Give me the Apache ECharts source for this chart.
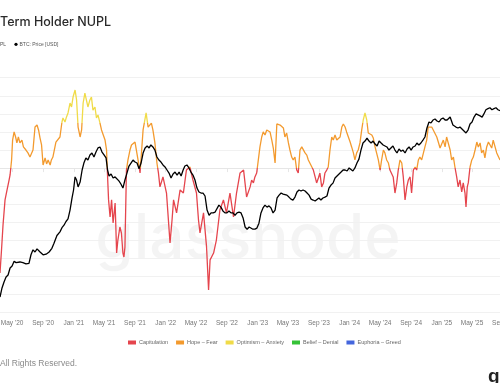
<!DOCTYPE html>
<html><head><meta charset="utf-8">
<script src="https://cdn.jsdelivr.net/npm/echarts@6/dist/echarts.min.js"></script>
<style>html,body{margin:0;padding:0;background:#fff}#c{width:500px;height:383px}</style>
</head><body><div id="c"></div>
<script>
// ---- data (days counted from START) ----
const START = '2020-03-14';
const AXIS_END_DAY = 2032.6;
const TICK_DATES = ['2020-05-01','2020-09-01','2021-01-01','2021-05-01','2021-09-01','2022-01-01','2022-05-01','2022-09-01','2023-01-01','2023-05-01','2023-09-01','2024-01-01','2024-05-01','2024-09-01','2025-01-01','2025-05-01','2025-09-01'];
const TICK_LABELS = ["May '20","Sep '20","Jan '21","May '21","Sep '21","Jan '22","May '22","Sep '22","Jan '23","May '23","Sep '23","Jan '24","May '24","Sep '24","Jan '25","May '25","Sep '25"];

const NUPL_DAY = [0,6,12,20,28,36,40,46,50,56,62,67,73,79,87,93,103,111,119,131,139,147,153,159,165,171,179,185,191,199,204,210,222,238,246,250,258,264,270,278,284,290,298,304,310,318,324,330,337,343,349,357,363,369,377,383,389,397,403,409,417,423,426,431,437,443,449,457,463,468,476,482,488,492,496,502,508,516,522,536,548,556,568,580,588,601,607,615,623,629,635,647,661,675,683,689,701,715,728,740,754,766,780,788,794,808,820,828,834,848,859,873,887,899,913,927,939,953,967,979,993,999,1006,1012,1019,1025,1032,1039,1045,1052,1059,1065,1072,1079,1085,1092,1099,1105,1112,1118,1125,1131,1138,1145,1151,1158,1164,1171,1178,1184,1191,1198,1204,1211,1218,1224,1231,1244,1251,1257,1264,1270,1277,1284,1290,1297,1303,1310,1317,1323,1330,1337,1343,1350,1357,1363,1370,1376,1383,1390,1396,1403,1409,1416,1422,1429,1436,1442,1449,1456,1462,1469,1476,1482,1489,1495,1502,1509,1515,1522,1528,1535,1542,1548,1555,1561,1568,1575,1581,1588,1595,1601,1608,1615,1621,1628,1634,1641,1648,1654,1661,1667,1674,1681,1687,1694,1700,1707,1714,1720,1727,1734,1740,1747,1760,1767,1773,1787,1793,1800,1806,1813,1819,1826,1833,1839,1846,1850,1855,1859,1866,1873,1879,1886,1893,1899,1906,1912,1919,1925,1932,1939,1945,1952,1958,1972,1985];
const NUPL_VALUE = [-0.580,-0.453,-0.315,-0.176,-0.121,-0.066,-0.038,0.045,0.155,0.200,
0.172,0.139,0.172,0.139,0.155,0.117,0.100,0.084,0.061,0.100,
0.227,0.238,0.211,0.166,0.128,0.017,0.056,0.023,0.045,0.017,
0.045,0.061,0.144,0.172,0.255,0.277,0.255,0.283,0.305,0.360,
0.338,0.393,0.432,0.377,0.227,0.172,0.211,0.360,0.415,0.421,
0.338,0.377,0.393,0.321,0.338,0.277,0.294,0.249,0.211,0.200,
0.155,0.100,-0.011,-0.176,-0.270,-0.176,-0.304,-0.193,-0.470,-0.398,
-0.326,-0.359,-0.470,-0.492,-0.437,-0.011,0.045,0.100,0.128,0.144,
0.045,-0.027,0.211,0.305,0.227,0.249,0.211,0.139,0.028,-0.027,
-0.104,-0.049,-0.138,-0.414,-0.287,-0.176,-0.248,-0.121,-0.138,-0.011,
0.006,-0.066,-0.138,-0.287,-0.359,-0.248,-0.436,-0.674,-0.508,-0.470,
-0.398,-0.232,-0.176,-0.248,-0.138,-0.270,-0.138,-0.027,-0.011,-0.160,
-0.104,-0.066,-0.082,-0.049,-0.027,-0.038,0.117,0.172,0.200,0.183,
0.211,0.200,0.200,0.155,0.111,0.028,0.244,0.233,0.238,0.227,
0.222,0.172,0.194,0.139,0.100,0.061,0.045,0.061,-0.011,-0.027,
0.100,0.117,0.111,0.084,0.072,0.045,0.045,-0.011,-0.049,-0.082,
-0.055,-0.027,-0.104,-0.082,-0.027,-0.011,0.006,0.100,0.172,0.155,
0.183,0.155,0.166,0.172,0.227,0.244,0.227,0.200,0.194,0.144,
0.117,0.084,0.045,0.084,0.100,0.139,0.211,0.266,0.305,0.266,
0.194,0.200,0.183,0.166,0.117,0.084,0.045,-0.011,0.045,0.100,
0.084,0.045,0.028,-0.011,-0.011,-0.049,-0.138,-0.082,-0.011,0.045,
0.028,-0.049,-0.176,-0.104,-0.066,-0.049,-0.138,-0.011,0.006,-0.011,
0.045,0.061,0.045,0.084,0.117,0.155,0.227,0.238,0.227,0.211,
0.200,0.172,0.144,0.111,0.155,0.117,0.172,0.100,0.045,0.061,
0.006,-0.049,-0.104,-0.066,-0.132,-0.082,-0.138,-0.215,-0.104,-0.082,
0.006,0.045,0.061,0.100,0.144,0.117,0.139,0.084,0.100,0.056,
0.117,0.144,0.139,0.111,0.155,0.084,0.045];

const PRICE_DAY = [0,8,16,24,32,40,48,56,64,71,79,91,103,115,123,131,139,147,159,171,183,195,206,214,226,238,246,254,262,270,278,286,292,298,304,310,318,326,333,341,349,357,365,373,381,389,397,405,413,421,427,433,441,449,457,464,472,480,488,496,504,512,520,528,536,544,552,560,568,576,584,592,599,607,615,623,631,639,647,655,663,671,679,687,695,703,711,719,727,734,742,750,758,766,774,782,790,798,806,814,822,830,838,846,854,861,869,877,885,893,901,909,917,925,933,941,949,957,965,973,981,989,996,1004,1012,1020,1028,1036,1044,1052,1060,1068,1076,1084,1092,1100,1108,1116,1124,1131,1139,1147,1155,1163,1171,1179,1187,1195,1203,1211,1219,1227,1235,1243,1251,1258,1266,1274,1282,1290,1298,1306,1314,1322,1330,1338,1346,1354,1362,1370,1378,1386,1393,1401,1409,1417,1425,1433,1441,1449,1457,1465,1473,1481,1489,1497,1505,1513,1521,1528,1536,1544,1552,1560,1568,1576,1584,1592,1600,1608,1616,1624,1632,1640,1648,1655,1663,1671,1679,1687,1695,1703,1711,1719,1727,1735,1743,1751,1759,1767,1775,1787,1798,1810,1818,1826,1838,1850,1858,1866,1874,1882,1890,1898,1906,1914,1921,1929,1937,1945,1953,1961,1969,1977,1985];
const PRICE_USD = [5420,6280,6930,7510,7760,8700,9000,9700,9500,9800,
9600,9500,9300,9400,10800,11700,11300,11900,11300,10800,
10900,11300,12000,13000,14800,15700,16800,17500,18600,19400,
22400,27300,31100,38500,36600,32700,35400,43100,48300,52500,
50700,55100,56900,53300,57800,61800,62800,57800,55100,52500,
43100,39100,40400,37800,38500,37800,36100,34300,32100,36600,
41000,46000,48300,50700,49100,48300,44000,48300,56900,61800,
63800,61800,64900,62800,59700,53300,50700,49100,46800,45300,
43100,41000,37800,40400,41700,39700,41700,39100,43100,46000,
46800,44600,41700,39700,36600,32100,30100,29600,29600,28200,
22400,20600,21400,21400,21700,22400,24300,23500,22100,21400,
21400,22100,21400,21400,20600,21400,21700,21400,19700,17000,
16400,17000,16700,16400,16400,16700,18100,21400,23200,24300,
23500,24000,23200,21400,22400,27300,28600,29600,29100,29600,
28600,27700,26800,26400,27700,30100,31100,30600,31100,30600,
29600,28600,26800,26400,26000,26400,27300,26400,27300,27700,
28200,32100,33700,34800,37800,39100,40400,41700,43100,43100,
42400,44600,45300,42400,44600,48300,51500,59700,67000,69200,
72600,69200,67000,69200,65900,63800,69200,67000,64900,67000,
62800,59700,61800,63800,59700,56900,60700,58600,59700,56900,
60700,62800,59700,62800,63800,67000,64900,67000,70300,73900,
85600,94400,92900,97500,99100,95900,94400,99100,100700,97500,
97500,102300,89900,86900,85600,86900,82800,78900,82800,91400,
94400,102300,107700,106000,104300,102300,107700,115300,117300,119200,
115300,117300,119200,115300,113400];

const ZONE_NAMES = ['Capitulation','Hope \u2013 Fear','Optimism \u2013 Anxiety','Belief \u2013 Denial','Euphoria \u2013 Greed'];
const ZONE_BOUNDS = [0, 0.25, 0.5, 0.75];
const ZONE_COLORS = ['#e5454d','#f39a2e','#f0db48','#35c237','#4466dd'];

// ---- build ----
const DAY = 86400000;
const t0 = new Date(START + 'T00:00:00Z').getTime();
const TICK_TS = TICK_DATES.map(d => new Date(d + 'T00:00:00Z').getTime());
const nupl = NUPL_DAY.map((d, i) => [t0 + d * DAY, NUPL_VALUE[i]]);
const price = PRICE_DAY.map((d, i) => [t0 + d * DAY, PRICE_USD[i]]);
const pieces = ZONE_NAMES.map((name, i) => {
  const p = { label: name, color: ZONE_COLORS[i] };
  if (i > 0) p.gte = ZONE_BOUNDS[i - 1];
  if (i < ZONE_BOUNDS.length) p.lt = ZONE_BOUNDS[i];
  return p;
});

const chart = echarts.init(document.getElementById('c'), null, { renderer: 'canvas' });
chart.setOption({
  animation: false,
  backgroundColor: '#fff',
  grid: { left: 0, right: -12, top: 77.7, bottom: 70.3, containLabel: false, outerBoundsMode: 'none' },
  xAxis: {
    type: 'value', min: t0, max: t0 + AXIS_END_DAY * DAY,
    axisLine: { show: true, lineStyle: { color: '#e6e6e6', width: 1 } },
    axisTick: { show: true, customValues: TICK_TS, length: 4, lineStyle: { color: '#e6e6e6' } },
    axisLabel: {
      customValues: TICK_TS, margin: 7, fontSize: 6.5, color: '#777', fontFamily: 'Liberation Sans',
      formatter: v => { const i = TICK_TS.findIndex(t => Math.abs(t - v) < DAY); return i >= 0 ? TICK_LABELS[i] : ''; }
    },
    splitLine: { show: false }
  },
  yAxis: [
    { type: 'value', min: -0.8, max: 0.5, interval: 0.1, axisLabel: { show: false }, axisLine: { show: false }, axisTick: { show: false },
      splitLine: { lineStyle: { color: '#f1f1f1', width: 1 } } },
    { type: 'log', logBase: 10, min: 4194, max: 194600, axisLabel: { show: false }, axisLine: { show: false }, axisTick: { show: false }, splitLine: { show: false } }
  ],
  visualMap: {
    type: 'piecewise', seriesIndex: 0, dimension: 1, orient: 'horizontal',
    left: 113, top: 324.5, itemWidth: 8, itemHeight: 4, itemGap: 8, textGap: 3, itemSymbol: 'rect',
    selectedMode: false, textStyle: { fontSize: 5.5, color: '#666', fontFamily: 'Liberation Sans' },
    pieces: pieces
  },
  graphic: [
    { type: 'text', z: -1, style: { text: 'glassnode', x: 248, y: 208, align: 'center', verticalAlign: 'alphabetic', font: '500 62px Inter', fill: 'rgba(0,0,0,0.045)' } },
    { type: 'text', style: { text: 'Term Holder NUPL', x: 0, y: 22.5, verticalAlign: 'middle', font: '500 12.5px Inter', fill: '#2a2a2a' } },
    { type: 'text', style: { text: 'PL', x: 0, y: 44.3, verticalAlign: 'middle', font: '5px "Liberation Sans"', fill: '#555' } },
    { type: 'circle', shape: { cx: 16, cy: 44.3, r: 1.6 }, style: { fill: '#000' } },
    { type: 'text', style: { text: 'BTC: Price [USD]', x: 19.5, y: 44.3, verticalAlign: 'middle', font: '5px "Liberation Sans"', fill: '#555' } },
    { type: 'text', style: { text: 'All Rights Reserved.', x: 0, y: 363.3, verticalAlign: 'middle', font: '8.5px "Liberation Sans"', fill: '#8a8a8a' } },
    { type: 'text', style: { text: 'g', x: 488, y: 367, verticalAlign: 'alphabetic', font: 'bold 19px "Liberation Sans"', fill: '#222' } }
  ],
  series: [
    { name: 'STH-NUPL', type: 'line', yAxisIndex: 0, data: nupl, showSymbol: false, symbol: 'none', lineStyle: { width: 1.3 }, z: 2 },
    { name: 'BTC: Price [USD]', type: 'line', yAxisIndex: 1, data: price, showSymbol: false, symbol: 'none', lineStyle: { width: 1.3, color: '#000' }, itemStyle: { color: '#000' }, z: 3 }
  ]
});
</script></body></html>
